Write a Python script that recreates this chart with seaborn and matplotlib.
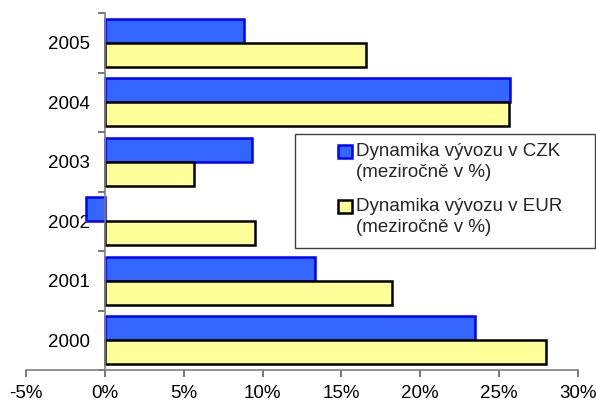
import matplotlib
matplotlib.use("Agg")
import matplotlib.pyplot as plt
import seaborn as sns
import pandas as pd
import numpy as np
from matplotlib.patches import Patch, Rectangle
from matplotlib.legend_handler import HandlerPatch
from matplotlib.ticker import FuncFormatter, FixedLocator

years = ["2005", "2004", "2003", "2002", "2001", "2000"]
czk = [8.8, 25.7, 9.35, -1.2, 13.3, 23.45]
eur = [16.55, 25.65, 5.65, 9.5, 18.2, 27.95]
series = ["Dynamika vývozu v CZK\n(meziročně v %)", "Dynamika vývozu v EUR\n(meziročně v %)"]
xticks = [-5, 0, 5, 10, 15, 20, 25, 30]

df = pd.DataFrame({
    "rok": years * 2,
    "hodnota": czk + eur,
    "serie": [series[0]] * len(years) + [series[1]] * len(years),
})

sns.set_theme(style="white")
plt.rcParams["font.family"] = ["Liberation Sans", "DejaVu Sans"]

fills = ["#3366FF", "#FFFF99"]
edges = ["#0000FF", "#000000"]
FS = 13.5
W, H = 596, 403

fig = plt.figure(figsize=(W / 100, H / 100), dpi=100)
ax = fig.add_axes([26 / W, 33 / H, 552 / W, 357 / H])

sns.barplot(data=df, y="rok", x="hodnota", hue="serie", order=years,
            hue_order=series, palette=fills, orient="h", width=0.8,
            dodge=True, ax=ax, legend=False, saturation=1)

for cont, ec in zip(ax.containers, edges):
    for bar in cont:
        bar.set_edgecolor(ec)
        bar.set_linewidth(1.8)

ax.set_xlim(-5, 30)
ax.set_ylim(len(years) - 0.5, -0.5)
ax.set_xticks(xticks)
ax.xaxis.set_major_formatter(FuncFormatter(lambda v, p: f"{v:.0f}%"))
ax.set_xlabel("")
ax.set_ylabel("")

for s in ["top", "right"]:
    ax.spines[s].set_visible(False)
ax.spines["left"].set_position(("data", 0))
for s in ["left", "bottom"]:
    ax.spines[s].set_color("#808080")
    ax.spines[s].set_linewidth(1.2)

# Year labels at category centres, tick marks on the category boundaries
ax.set_yticks(range(len(years)))
ax.set_yticklabels(years)
ax.yaxis.set_minor_locator(FixedLocator(np.arange(-0.5, len(years), 1.0)))
ax.tick_params(axis="y", which="major", length=0, pad=10.5, labelsize=FS, labelcolor="black")
ax.tick_params(axis="y", which="minor", length=5, width=1.2, color="#606060", left=True)
ax.tick_params(axis="x", which="major", length=5, width=1.2, color="#606060",
               bottom=True, labelsize=FS, pad=6, labelcolor="black")


def top_square(legend, orig_handle, xdescent, ydescent, width, height, fontsize):
    # square key aligned with the first line of a two-line label
    return Rectangle((-xdescent, -ydescent + 0.75 * height), width, height)


# legend frame spanning to the right edge of the figure
frame = Rectangle((295 / W, 1 - 248 / H), 300 / W, 114 / H, transform=fig.transFigure,
                  facecolor="white", edgecolor="#404040", linewidth=1.0, zorder=5)
fig.add_artist(frame)

handles = [Patch(facecolor=f, edgecolor=e, linewidth=1.8) for f, e in zip(fills, edges)]
leg = fig.legend(handles, series, loc="upper left",
                 bbox_to_anchor=(338 / W, 1 - 143 / H),
                 fontsize=FS, frameon=False,
                 handlelength=0.75, handleheight=0.75, handletextpad=0.2,
                 labelspacing=0.9, borderpad=0, borderaxespad=0,
                 handler_map={Patch: HandlerPatch(patch_func=top_square)})
leg.set_zorder(6)
for t in leg.get_texts():
    t.set_linespacing(1.3)

fig.savefig("out.png", dpi=100)
